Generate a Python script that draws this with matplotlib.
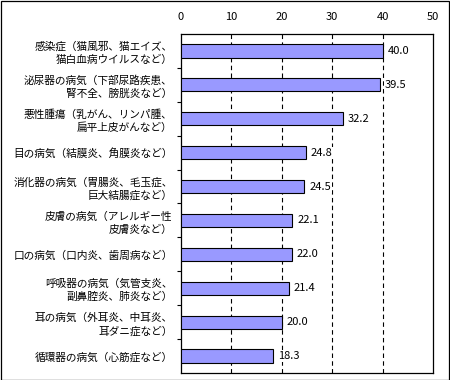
import matplotlib
matplotlib.use("Agg")
import matplotlib.pyplot as plt
from matplotlib.patches import Rectangle

plt.rcParams['font.family'] = ['Noto Sans CJK JP', 'DejaVu Sans']

categories = [
    "感染症（猫風邪、猫エイズ、\n猫白血病ウイルスなど）",
    "泌尿器の病気（下部尿路疾患、\n腎不全、膀胱炎など）",
    "悪性腫瘍（乳がん、リンパ腫、\n扁平上皮がんなど）",
    "目の病気（結膜炎、角膜炎など）",
    "消化器の病気（胃腸炎、毛玉症、\n巨大結腸症など）",
    "皮膚の病気（アレルギー性\n皮膚炎など）",
    "口の病気（口内炎、歯周病など）",
    "呼吸器の病気（気管支炎、\n副鼻腔炎、肺炎など）",
    "耳の病気（外耳炎、中耳炎、\n耳ダニ症など）",
    "循環器の病気（心筋症など）",
]
values = [40.0, 39.5, 32.2, 24.8, 24.5, 22.1, 22.0, 21.4, 20.0, 18.3]
xticks = [0, 10, 20, 30, 40, 50]

W, H = 450, 380
fig = plt.figure(figsize=(W / 100, H / 100), dpi=100)
ax = fig.add_axes([181 / W, 1 - 373 / H, (433 - 181) / W, (373 - 34) / H])

n = len(categories)
pos = list(range(n))
ax.barh(pos, values, height=0.39, color='#9999FF', edgecolor='black', linewidth=0.8, zorder=3)
for p, v in zip(pos, values):
    ax.annotate(f"{v:.1f}", (v, p), xytext=(3.5, 0), textcoords='offset points',
                va='center', ha='left', fontsize=8, zorder=4,
                bbox=dict(boxstyle='square,pad=0.1', fc='white', ec='none'))

ax.set_xlim(0, 50)
ax.set_ylim(n - 0.5, -0.5)
ax.xaxis.tick_top()
ax.set_xticks(xticks)
ax.set_xticklabels([str(t) for t in xticks], fontsize=8)
ax.tick_params(axis='x', length=0, pad=9)

ax.set_yticks(pos)
ax.set_yticklabels(categories, fontsize=7.7, linespacing=1.35)
ax.tick_params(axis='y', which='major', length=0, pad=6)
ax.set_yticks([i + 0.5 for i in range(n - 1)], minor=True)
ax.tick_params(axis='y', which='minor', length=3, width=0.8, direction='out')

for t in xticks[1:-1]:
    ax.axvline(t, color='black', lw=0.8, ls=(0, (4, 3)), zorder=1)

for s in ax.spines.values():
    s.set_linewidth(0.9)
    s.set_color('black')

fig.add_artist(Rectangle((0.5 / W, 0.5 / H), 1 - 1.5 / W, 1 - 1.5 / H,
                         transform=fig.transFigure, fill=False, lw=0.9, edgecolor='black'))

fig.savefig("out.png", dpi=100)
